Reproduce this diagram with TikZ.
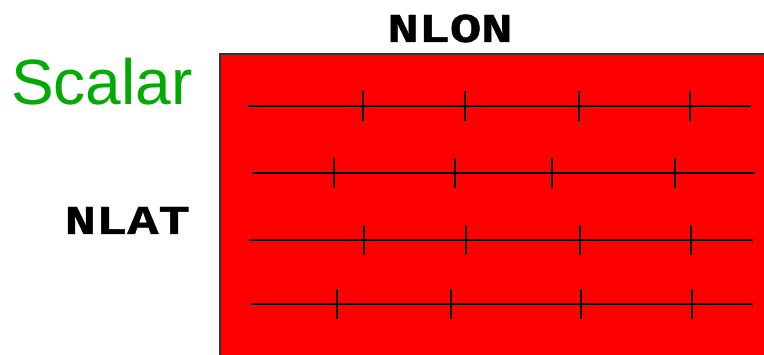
\documentclass[tikz,border=0pt]{standalone}
\usepackage{fontspec}
\setmainfont{Liberation Sans}
\newfontfamily\monob[BoldFeatures={FakeBold=1}]{Liberation Mono}
\definecolor{scalargreen}{RGB}{0,170,0}
\newcommand{\widemono}[1]{\scalebox{1.27}[1]{#1}}
\begin{document}
\begin{tikzpicture}[x=1pt,y=-1pt,
  rowline/.style={black,line width=1.5pt},
  tickmark/.style={black,line width=1.5pt},
  dimlabel/.style={font=\monob\bfseries\fontsize{41}{46}\selectfont,inner sep=0pt},
  titlelabel/.style={font=\fontsize{64}{70}\selectfont,text=scalargreen,inner sep=0pt,anchor=base west}]
\useasboundingbox (0,0) rectangle (764,355);
\fill[red] (220,54) rectangle (766,358);
\draw[line width=1.2pt,black!80] (220,358) -- (220,54) -- (766,54);
\node[titlelabel] (scalar) at (11,105) {Scalar};
\node[dimlabel,anchor=base] (nlon) at (450,42) {\widemono{NLON}};
\node[dimlabel,anchor=base east] (nlat) at (190,234) {\widemono{NLAT}};
\foreach \y/\xa/\xb/\ta/\tb/\tc/\td in {
  106/248/751/363/465/579/690,
  173/252/755/334/455/552/675,
  240/249/753/364/466/580/691,
  304/251/753/337/451/581/692}{
  \draw[rowline] (\xa,\y) -- (\xb,\y);
  \foreach \t in {\ta,\tb,\tc,\td}
    \draw[tickmark] (\t,\y-15) -- (\t,\y+15);
}
\end{tikzpicture}
\end{document}
